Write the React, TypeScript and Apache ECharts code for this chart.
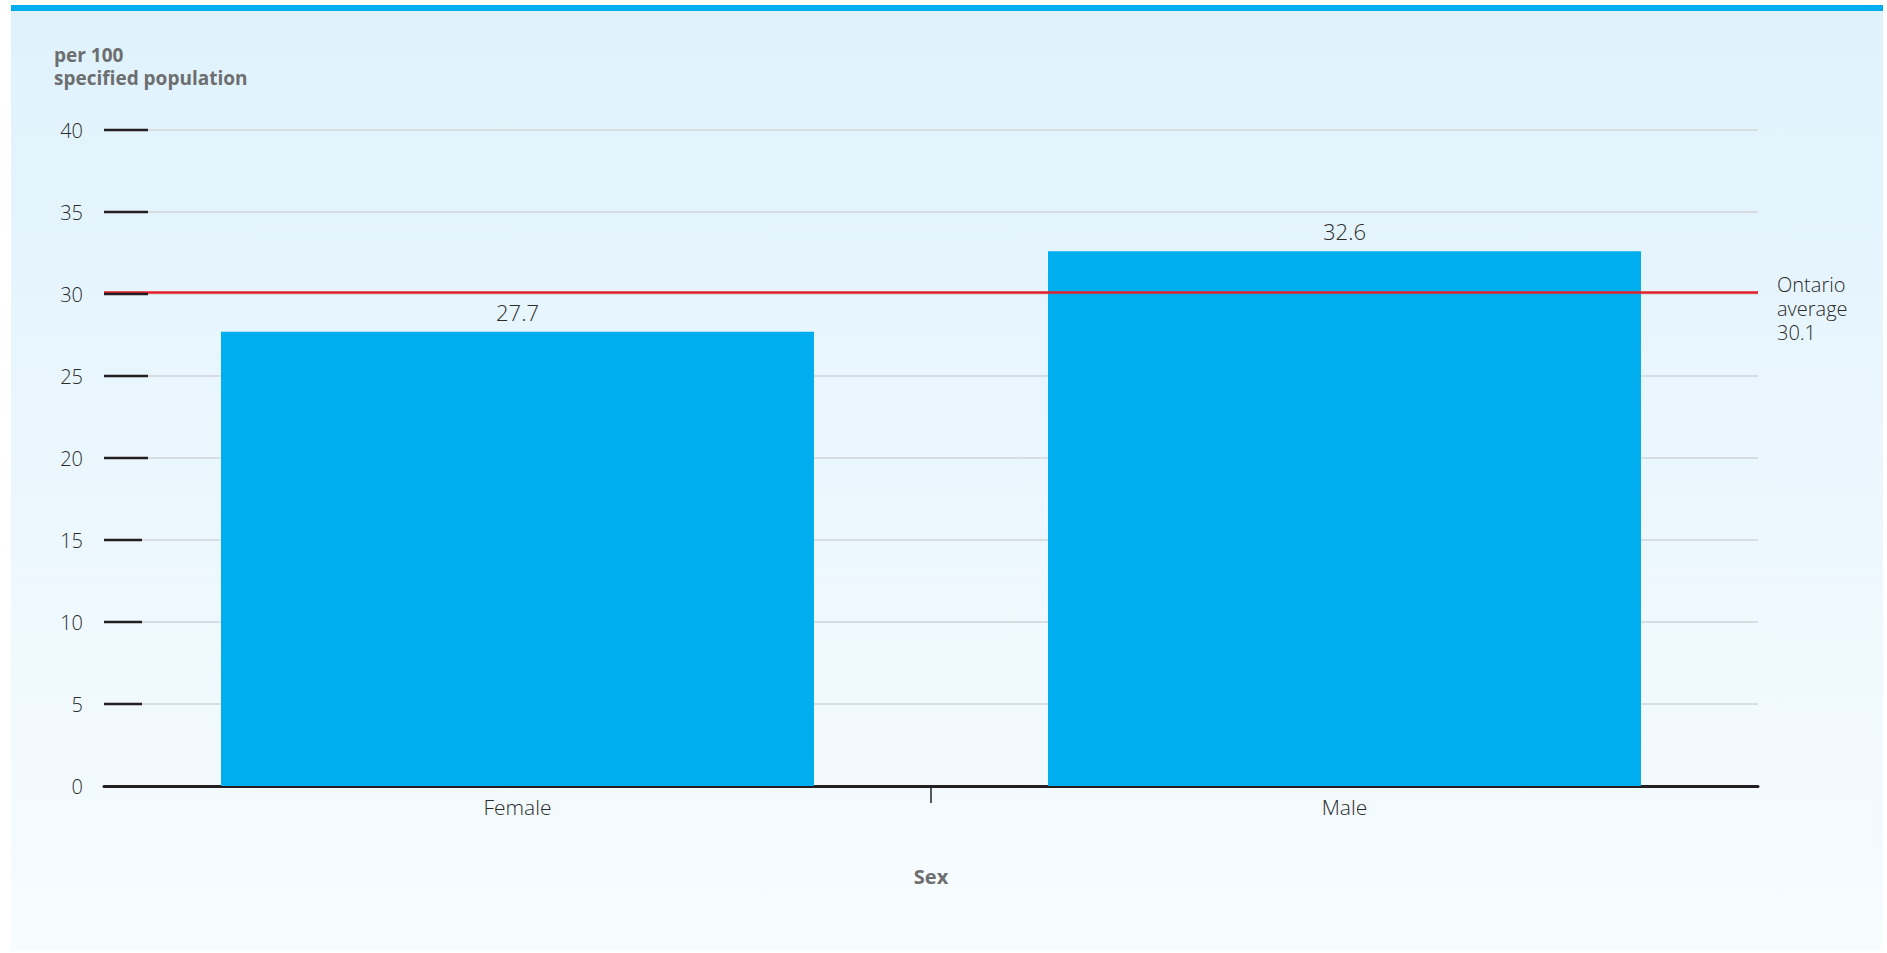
import React, { useEffect, useRef } from "react";
import * as echarts from "echarts";

const categories: string[] = ["Female", "Male"];
const values: number[] = [27.7, 32.6];
const ontarioAverage = 30.1;
const yTickValues: number[] = [5, 10, 15, 20, 25, 30, 35, 40];
const yAxisTitleLines: string[] = ["per 100", "specified population"];
const xAxisTitle = "Sex";
const averageLabelLines: string[] = ["Ontario", "average", String(ontarioAverage)];

const FONT = "'Open Sans', 'Noto Sans', sans-serif";
const GRID = { left: 104, right: 129, top: 130, bottom: 167 };

export default function App() {
  const ref = useRef<HTMLDivElement>(null);

  useEffect(() => {
    if (!ref.current) return;
    const chart = echarts.init(ref.current, null, { renderer: "svg" });
    const option: any = {
      animation: false,
      backgroundColor: "transparent",
      grid: { ...GRID, containLabel: false },
      xAxis: {
        type: "category",
        data: categories,
        axisLine: { show: true, lineStyle: { color: "#231f20", width: 3 } },
        axisTick: { show: false },
        axisLabel: { color: "#2b2b2b", fontFamily: FONT, fontSize: 21, fontWeight: 300, margin: 10 },
        name: xAxisTitle,
        nameLocation: "middle",
        nameGap: 80,
        nameTextStyle: { color: "#6d6e70", fontFamily: FONT, fontSize: 20, fontWeight: "bold" },
      },
      yAxis: {
        type: "value",
        min: 0,
        max: 40,
        interval: 5,
        axisLine: { show: false },
        axisTick: { show: false },
        axisLabel: { color: "#2b2b2b", fontFamily: FONT, fontSize: 20, fontWeight: 300, margin: 21 },
        splitLine: { show: true, lineStyle: { color: "#d8dde1", width: 2 } },
      },
      series: [
        {
          type: "bar",
          data: values,
          barWidth: "71.7%",
          itemStyle: { color: "#00aeef" },
          label: {
            show: true,
            position: "top",
            distance: 9,
            color: "#2b2b2b",
            fontFamily: FONT,
            fontSize: 22,
            fontWeight: 300,
          },
          markLine: {
            silent: true,
            symbol: "none",
            label: { show: false },
            lineStyle: { color: "#e3202a", width: 2.5, type: "solid" },
            data: [{ yAxis: ontarioAverage }],
            z: 5,
          },
        },
      ],
    };
    chart.setOption(option);

    const yPix = (v: number) => chart.convertToPixel({ yAxisIndex: 0 }, v) as number;
    const xPix = (i: number) => chart.convertToPixel({ xAxisIndex: 0 }, i) as number;
    const axisY = yPix(0);
    const gridRight = 1887 - GRID.right;

    const graphics: any[] = [];
    yTickValues.forEach((v) => {
      const y = yPix(v);
      graphics.push({
        type: "line",
        z: 10,
        shape: { x1: GRID.left, y1: y, x2: GRID.left + (v >= 20 ? 44 : 38), y2: y },
        style: { stroke: "#231f20", lineWidth: 2.5 },
      });
    });
    const midX = (xPix(0) + xPix(1)) / 2;
    graphics.push({
      type: "line",
      z: 10,
      shape: { x1: midX, y1: axisY, x2: midX, y2: axisY + 17 },
      style: { stroke: "#231f20", lineWidth: 1.5 },
    });
    const avgY = yPix(ontarioAverage);
    averageLabelLines.forEach((line, i) => {
      graphics.push({
        type: "text",
        z: 10,
        x: gridRight + 19,
        y: avgY - 8 + i * 24,
        style: {
          text: line,
          fill: "#2b2b2b",
          font: `300 20px ${FONT}`,
          textVerticalAlign: "middle",
        },
      });
    });
    yAxisTitleLines.forEach((line, i) => {
      graphics.push({
        type: "text",
        z: 10,
        x: 54,
        y: 54.5 + i * 23,
        style: {
          text: line,
          fill: "#6d6e70",
          font: `bold 19px ${FONT}`,
          textVerticalAlign: "middle",
        },
      });
    });
    chart.setOption({ graphic: graphics });

    return () => chart.dispose();
  }, []);

  return (
    <div style={{ position: "absolute", left: 0, top: 0, width: 1887, height: 953, background: "#fff" }}>
      <div
        style={{
          position: "absolute",
          left: 11,
          top: 5,
          width: 1872,
          height: 946,
          background: "linear-gradient(to bottom, #dff2fc 0%, #f7fcff 100%)",
        }}
      />
      <div style={{ position: "absolute", left: 11, top: 5, width: 1872, height: 6, background: "#00aeef" }} />
      <div ref={ref} style={{ position: "absolute", left: 0, top: 0, width: 1887, height: 953 }} />
    </div>
  );
}
